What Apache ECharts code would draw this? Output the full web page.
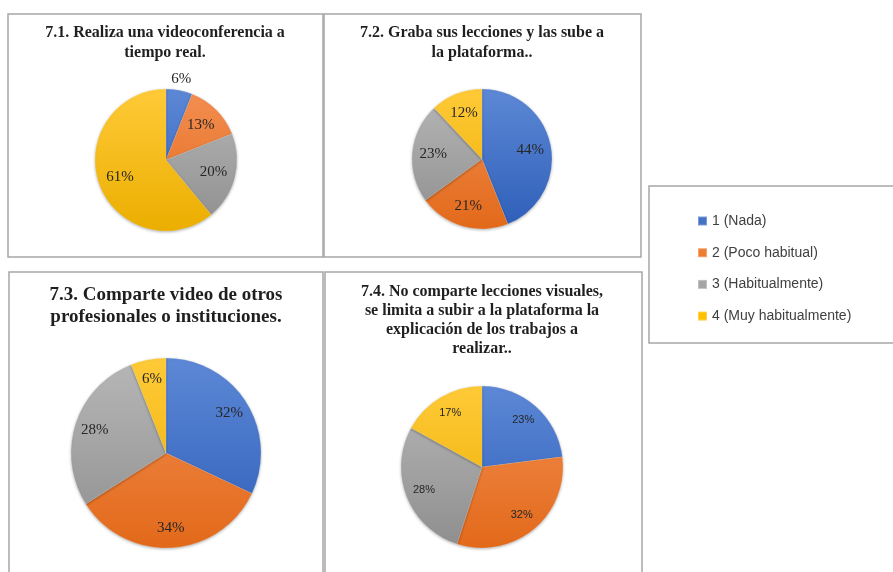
<!DOCTYPE html>
<html>
<head>
<meta charset="utf-8">
<script src="https://cdn.jsdelivr.net/npm/echarts@6/dist/echarts.min.js"></script>
<style>
html, body { margin: 0; padding: 0; background: #fff; }
#chart { width: 893px; height: 572px; }
</style>
</head>
<body>
<div id="chart"></div>
<script>
// categorias y valores (%) de cada pregunta
const categorias = ["1 (Nada)", "2 (Poco habitual)", "3 (Habitualmente)", "4 (Muy habitualmente)"];
const valores71 = [6, 13, 20, 61];
const valores72 = [44, 21, 23, 12];
const valores73 = [32, 34, 28, 6];
const valores74 = [23, 32, 28, 17];
const titulos = [
  "7.1. Realiza una videoconferencia a\ntiempo real.",
  "7.2. Graba sus lecciones y las sube a\nla plataforma..",
  "7.3. Comparte video de otros\nprofesionales o instituciones.",
  "7.4. No comparte lecciones visuales,\nse limita a subir a la plataforma la\nexplicación de los trabajos a\nrealizar.."
];

const colores = ["#4472C4", "#ED7D31", "#A5A5A5", "#FFC000"];
const claros = ["#5D88D6", "#F38F52", "#B7B7B7", "#FFCA38"];
const oscuros = ["#2D5EB8", "#E2691A", "#8E8E8E", "#EBAE00"];

// posicion de cada tarta
const tartas = [
  { valores: valores71, cx: 166, cy: 160, r: 71, k: 0.69, fuera: [0], font: "Liberation Serif", size: 15 },
  { valores: valores72, cx: 482, cy: 159, r: 70, k: 0.7, fuera: [], font: "Liberation Serif", size: 15 },
  { valores: valores73, cx: 166, cy: 453, r: 95, k: 0.79, fuera: [], font: "Liberation Serif", size: 15 },
  { valores: valores74, cx: 482, cy: 467, r: 81, k: 0.77, fuera: [], font: "Liberation Sans", size: 11 }
];

const titulosPos = [
  { x: 165, y: 23, size: 16, lh: 20 },
  { x: 482, y: 23, size: 16, lh: 20 },
  { x: 166, y: 284, size: 19, lh: 22 },
  { x: 482, y: 282, size: 16, lh: 19 }
];

function degradado(i, cy, r) {
  return new echarts.graphic.LinearGradient(0, cy - r, 0, cy + r, [
    { offset: 0, color: claros[i] },
    { offset: 1, color: oscuros[i] }
  ], true);
}

const myChart = echarts.init(document.getElementById("chart"));

const option = {
  backgroundColor: "#fff",
  animation: false,
  title: titulos.map((t, i) => ({
    text: t,
    left: titulosPos[i].x,
    top: titulosPos[i].y,
    padding: 0,
    textAlign: "center",
    textStyle: {
      fontFamily: "Liberation Serif",
      fontWeight: "bold",
      fontSize: titulosPos[i].size,
      lineHeight: titulosPos[i].lh,
      color: "#1f1f1f"
    }
  })),
  legend: {
    orient: "vertical",
    left: 697,
    top: 214,
    padding: 0,
    itemWidth: 9,
    itemHeight: 9,
    itemGap: 17.7,
    icon: "rect",
    selectedMode: false,
    textStyle: {
      fontFamily: "Liberation Sans",
      fontSize: 14,
      lineHeight: 14,
      color: "#404040"
    },
    data: categorias.map((c, i) => ({ name: c, itemStyle: { color: colores[i] } }))
  },
  graphic: [
    { type: "rect", shape: { x: 8, y: 14, width: 315, height: 243 }, style: { fill: "none", stroke: "#a6a6a6", lineWidth: 1.5 } },
    { type: "rect", shape: { x: 324, y: 14, width: 317, height: 243 }, style: { fill: "none", stroke: "#a6a6a6", lineWidth: 1.5 } },
    { type: "rect", shape: { x: 9, y: 272, width: 314, height: 320 }, style: { fill: "none", stroke: "#a6a6a6", lineWidth: 1.5 } },
    { type: "rect", shape: { x: 325, y: 272, width: 317, height: 320 }, style: { fill: "none", stroke: "#a6a6a6", lineWidth: 1.5 } },
    { type: "rect", shape: { x: 649, y: 186, width: 260, height: 157 }, style: { fill: "none", stroke: "#a6a6a6", lineWidth: 1.5 } }
  ],
  series: tartas.map(t => ({
    type: "pie",
    center: [t.cx, t.cy],
    radius: [0, t.r],
    startAngle: 90,
    clockwise: true,
    silent: true,
    data: t.valores.map((v, i) => ({
      name: categorias[i],
      value: v,
      itemStyle: { color: degradado(i, t.cy, t.r) }
    })),
    itemStyle: {
      borderColor: "rgba(255,255,255,0.3)",
      borderWidth: 0.5,
      shadowBlur: 3,
      shadowOffsetY: 1,
      shadowColor: "rgba(0,0,0,0.3)"
    },
    label: {
      show: true,
      position: "inside",
      formatter: "{c}%",
      fontFamily: t.font,
      fontSize: t.size,
      color: "#262626"
    },
    labelLine: { show: false },
    labelLayout: function (p) {
      const lr = p.labelRect;
      const lx = lr.x + lr.width / 2;
      const ly = lr.y + lr.height / 2;
      const dx = lx - t.cx;
      const dy = ly - t.cy;
      const d = Math.hypot(dx, dy) || 1;
      const dist = t.fuera.indexOf(p.dataIndex) >= 0 ? t.r + 11 : t.r * t.k;
      return { x: t.cx + dx / d * dist, y: t.cy + dy / d * dist };
    }
  }))
};

myChart.setOption(option);
</script>
</body>
</html>
